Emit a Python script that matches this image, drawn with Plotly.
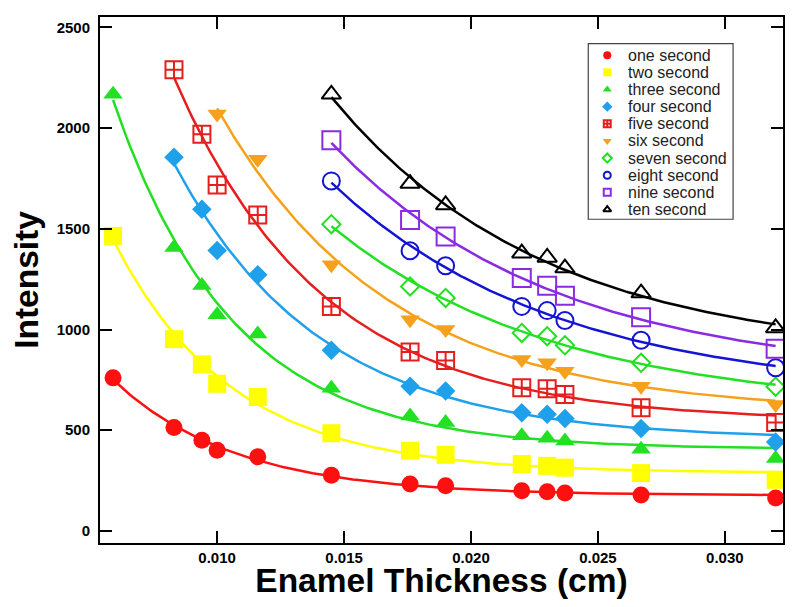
import numpy as np
import plotly.graph_objects as go

# Enamel thickness (cm) at which intensities were measured
thickness = [0.0059, 0.0083, 0.0094, 0.0100, 0.0116, 0.0145, 0.0176, 0.0190,
             0.0220, 0.0230, 0.0237, 0.0267, 0.0320]

one_second = [760, 513, 450, 401, 368, 276, 233, 224, 200, 195, 188, 178, 163]
two_second = [1465, 952, 827, 731, 665, 485, 398, 378, 332, 323, 314, 287, 254]
three_second = [2168, 1408, 1219, 1074, 978, 708, 571, 538, 472, 460, 447, 406, 359]
four_second = [1855, 1597, 1393, 1272, 897, 719, 695, 587, 579, 558, 508, 442]
five_second = [2290, 1970, 1718, 1569, 1115, 888, 846, 711, 706, 678, 612, 538]
six_second = [2070, 1845, 1322, 1049, 1000, 851, 835, 793, 719, 628]
seven_second = [1523, 1214, 1157, 983, 967, 922, 835, 716]
eight_second = [1738, 1391, 1317, 1115, 1094, 1045, 947, 810]
nine_second = [1940, 1544, 1462, 1256, 1218, 1168, 1061, 904]
ten_second = [2168, 1725, 1619, 1379, 1358, 1305, 1181, 1008]

series_names = ["one second", "two second", "three second", "four second", "five second",
                "six second", "seven second", "eight second", "nine second", "ten second"]
series_values = [one_second, two_second, three_second, four_second, five_second,
                 six_second, seven_second, eight_second, nine_second, ten_second]

x_ticks = [0.010, 0.015, 0.020, 0.025, 0.030]
x_tick_labels = ["0.010", "0.015", "0.020", "0.025", "0.030"]
y_ticks = [0, 500, 1000, 1500, 2000, 2500]
y_tick_labels = ["0", "500", "1000", "1500", "2000", "2500"]

colors = ["#ff1010", "#ffff00", "#22e022", "#1fa0ea", "#e61e1e",
          "#f5a11c", "#22e022", "#1414d2", "#8a2be2", "#000000"]
symbols = ["circle", "square", "triangle-up", "diamond", "square-cross-open",
           "triangle-down", "diamond-open", "circle-open", "square-open", "triangle-up-open"]
sizes = [17, 18, 17, 15, 17, 17, 14, 17, 18, 17]


def exp_fit(xs, ys):
    xs = np.asarray(xs, float)
    ys = np.asarray(ys, float)
    best = None
    for tau in np.linspace(0.0008, 0.06, 3000):
        A = np.column_stack([np.ones_like(xs), np.exp(-xs / tau)])
        coef, *_ = np.linalg.lstsq(A, ys, rcond=None)
        r = np.sum((A @ coef - ys) ** 2)
        if best is None or r < best[0]:
            best = (r, tau, coef)
    _, tau, coef = best
    xf = np.linspace(xs.min(), xs.max(), 200)
    return xf, coef[0] + coef[1] * np.exp(-xf / tau)


fig = go.Figure()

for name, vals, c, s, sz in zip(series_names, series_values, colors, symbols, sizes):
    xs = thickness[len(thickness) - len(vals):]
    xf, yf = exp_fit(xs, vals)
    fig.add_trace(go.Scatter(x=xf, y=yf, mode="lines", line=dict(color=c, width=2.5),
                             showlegend=False, hoverinfo="skip"))
    open_sym = s.endswith("open")
    fig.add_trace(go.Scatter(
        x=xs, y=vals, mode="markers", name=name, showlegend=False,
        marker=dict(symbol=s, size=sz, color=c,
                    line=dict(color=c, width=2 if open_sym else 0))))

# ---- custom legend (layout positions in paper fractions of the plot area) ----
leg_x0, leg_x1, leg_y0, leg_y1 = 0.7149, 0.9269, 0.6155, 0.9494
leg_marker_x, leg_text_x = 0.7427, 0.770
leg_first_y, leg_step = 0.9274, 0.0326
leg_ys = [leg_first_y - i * leg_step for i in range(len(series_names))]

fig.add_shape(type="rect", xref="paper", yref="paper", x0=leg_x0, x1=leg_x1,
              y0=leg_y0, y1=leg_y1, line=dict(color="#444", width=1.2),
              fillcolor="white", layer="below")
for name, c, s, ly in zip(series_names, colors, symbols, leg_ys):
    open_sym = s.endswith("open")
    fig.add_trace(go.Scatter(
        x=[leg_marker_x], y=[ly], xaxis="x2", yaxis="y2", mode="markers",
        showlegend=False, hoverinfo="skip",
        marker=dict(symbol=s, size=8 if not open_sym else 7, color=c,
                    line=dict(color=c, width=2 if open_sym else 0))))
    fig.add_annotation(x=leg_text_x, y=ly, xref="paper", yref="paper", text=name,
                       showarrow=False, xanchor="left", yanchor="middle",
                       font=dict(family="Liberation Sans, Arial", size=16, color="#222"))

axis_common = dict(
    showgrid=False, zeroline=False, showline=True, linecolor="black", linewidth=2,
    mirror="ticks", ticks="inside", ticklen=12, tickwidth=2, tickcolor="black",
    tickfont=dict(family="Liberation Sans, Arial", size=15, color="black", weight="bold"),
)

fig.update_layout(
    width=784, height=591,
    margin=dict(l=92, r=8, t=7, b=56),
    paper_bgcolor="white", plot_bgcolor="white",
    showlegend=False,
    xaxis=dict(range=[0.005386, 0.03229], tickvals=x_ticks, ticktext=x_tick_labels,
               title=dict(text="Enamel Thickness (cm)", standoff=0,
                          font=dict(family="Liberation Sans, Arial", size=33.5,
                                    color="black", weight="bold")),
               **axis_common),
    yaxis=dict(range=[-60, 2552], tickvals=y_ticks, ticktext=y_tick_labels,
               ticklabelstandoff=5,
               title=dict(text="Intensity", standoff=9,
                          font=dict(family="Liberation Sans, Arial", size=33.5,
                                    color="black", weight="bold")),
               **axis_common),
    xaxis2=dict(overlaying="x", range=[0, 1], visible=False),
    yaxis2=dict(overlaying="y", range=[0, 1], visible=False),
)

fig.write_html("out.html")
